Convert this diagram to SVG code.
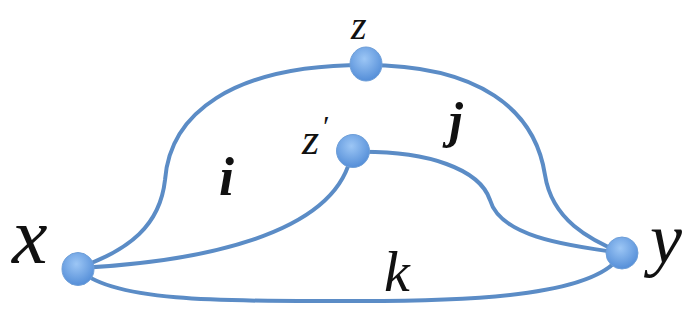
<svg xmlns="http://www.w3.org/2000/svg" width="685" height="321" viewBox="0 0 685 321">
<style>
.e{fill:none;stroke:#5b8cc6;stroke-width:4;stroke-linecap:round}
.n{fill:url(#g);stroke:#6f9fd8;stroke-width:1}
</style>
<defs>
<radialGradient id="g" cx="0.45" cy="0.35" r="0.7">
<stop offset="0" stop-color="#9cc6f5"/>
<stop offset="1" stop-color="#4f8ad6"/>
</radialGradient>
</defs>
<rect width="685" height="321" fill="#fff"/>
<g id="connectors">
<path class="e" d="M78,268 C130,250 160,225 165,180 C170,115 230,65 365,65"/>
<path class="e" d="M365,65 C480,65 535,110 545,175 C552,220 590,240 622,253"/>
<path class="e" d="M78,268 C200,262 330,235 350,160"/>
<path class="e" d="M352,152 C430,150 480,170 490,200 C500,235 560,245 622,253"/>
<path class="e" d="M78,268 C110,305 250,301 360,301 C480,301 600,295 622,253"/>
</g>
<g font-family="Liberation Serif, serif" font-style="italic" fill="#111">
<g id="node-x"><ellipse class="n" cx="78" cy="269" rx="16" ry="16.5"/><text x="12" y="263" font-size="80">x</text></g>
<g id="node-z"><ellipse class="n" cx="366" cy="64" rx="16" ry="17"/><text x="351" y="39" font-size="40">z</text></g>
<g id="node-zp"><ellipse class="n" cx="353" cy="151" rx="16.5" ry="16.5"/><text x="302" y="154" font-size="44">z<tspan font-size="30" dx="2" dy="-18">′</tspan></text></g>
<g id="node-y"><ellipse class="n" cx="622" cy="253" rx="16" ry="16"/><text x="650" y="263" font-size="72">y</text></g>
<g id="label-i"><text font-weight="bold" x="219" y="195" font-size="54">i</text></g>
<g id="label-j"><text font-weight="bold" x="449" y="137" font-size="50">j</text></g>
<g id="label-k"><text x="384" y="291" font-size="58">k</text></g>
</g>
</svg>
